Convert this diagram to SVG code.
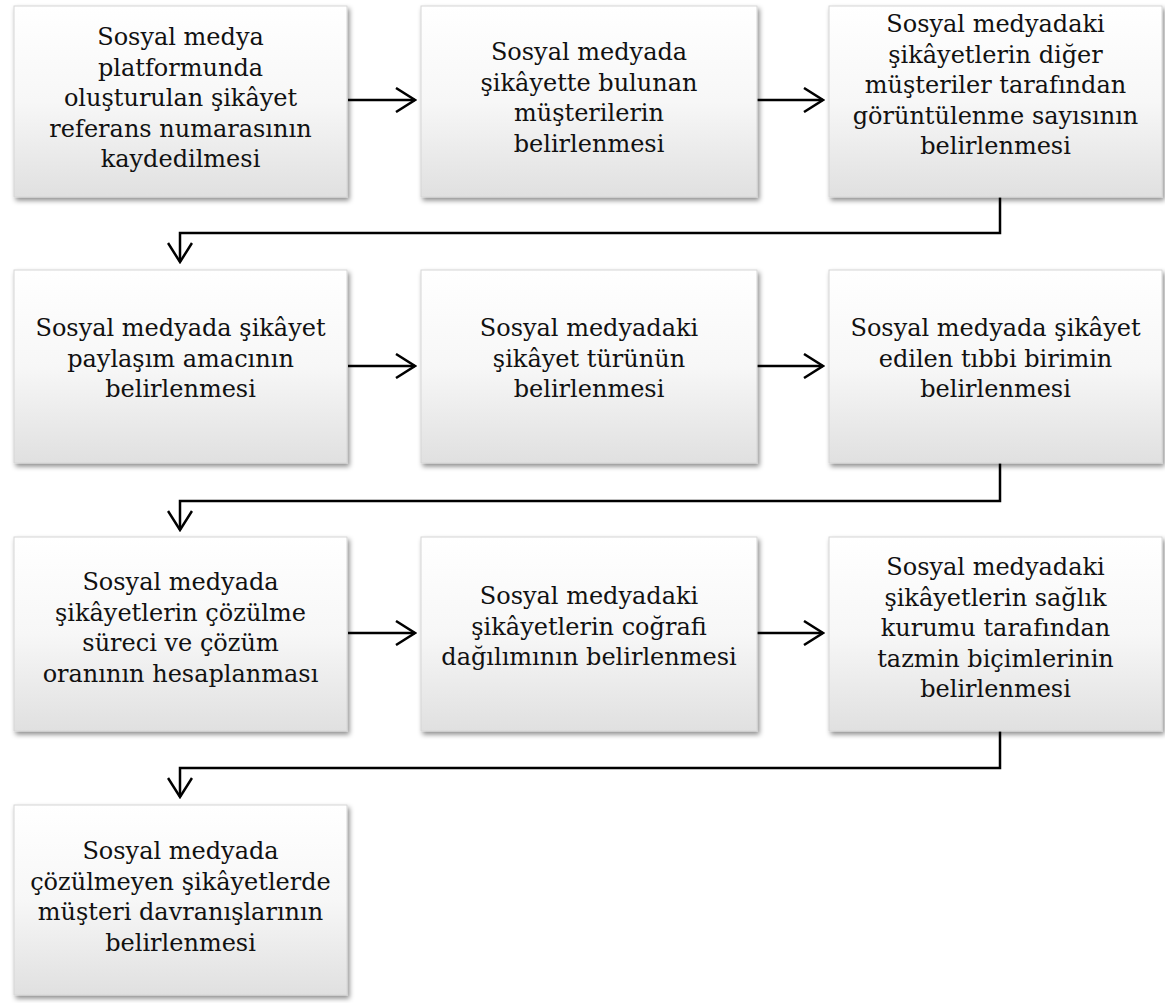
<svg xmlns="http://www.w3.org/2000/svg" width="1165" height="1003" viewBox="0 0 1165 1003">
<style>
.box{fill:url(#g);stroke:#d6d6d6;stroke-width:1;filter:url(#sh)}
.t{font-size:24px;fill:#111;text-anchor:middle}
.c{fill:none;stroke:#000;stroke-width:2.5;marker-end:url(#ah)}
</style>
<defs>
<linearGradient id="g" x1="0" y1="0" x2="0" y2="1">
<stop offset="0" stop-color="#ffffff"/>
<stop offset="0.5" stop-color="#f7f7f7"/>
<stop offset="1" stop-color="#e0e0e0"/>
</linearGradient>
<filter id="sh" x="-5%" y="-5%" width="115%" height="120%">
<feDropShadow dx="2" dy="3" stdDeviation="2.5" flood-color="#000" flood-opacity="0.45"/>
</filter>
<marker id="ah" markerUnits="userSpaceOnUse" viewBox="0 0 22 26" refX="20" refY="13" markerWidth="22" markerHeight="26" orient="auto">
<path d="M1,1 L20,13 L1,25" fill="none" stroke="#000" stroke-width="2.5"/>
</marker>
</defs>
<rect width="1165" height="1003" fill="#fff"/>

<g id="connectors">
<line class="c" x1="348" y1="100" x2="415" y2="100"/>
<line class="c" x1="757" y1="100" x2="823" y2="100"/>
<polyline class="c" points="1000,197 1000,233 180,233 180,262"/>
<line class="c" x1="348" y1="366" x2="415" y2="366"/>
<line class="c" x1="757" y1="366" x2="823" y2="366"/>
<polyline class="c" points="1000,463 1000,501 180,501 180,530"/>
<line class="c" x1="348" y1="633" x2="415" y2="633"/>
<line class="c" x1="757" y1="633" x2="823" y2="633"/>
<polyline class="c" points="1000,731 1000,768 180,768 180,797"/>
</g>

<g font-family="'DejaVu Serif', serif">
<g id="n1">
<rect class="box" x="14" y="6" width="333" height="191"/>
<text class="t"><tspan x="180.5" y="45">Sosyal medya</tspan><tspan x="180.5" y="75.5">platformunda</tspan><tspan x="180.5" y="106">oluşturulan şikâyet</tspan><tspan x="180.5" y="136.5">referans numarasının</tspan><tspan x="180.5" y="167">kaydedilmesi</tspan></text>
</g>
<g id="n2">
<rect class="box" x="421" y="6" width="336" height="191"/>
<text class="t"><tspan x="589" y="60">Sosyal medyada</tspan><tspan x="589" y="90.5">şikâyette bulunan</tspan><tspan x="589" y="121">müşterilerin</tspan><tspan x="589" y="151.5">belirlenmesi</tspan></text>
</g>
<g id="n3">
<rect class="box" x="829" y="6" width="333" height="191"/>
<text class="t"><tspan x="995.5" y="32">Sosyal medyadaki</tspan><tspan x="995.5" y="62.5">şikâyetlerin diğer</tspan><tspan x="995.5" y="93">müşteriler tarafından</tspan><tspan x="995.5" y="123.5">görüntülenme sayısının</tspan><tspan x="995.5" y="154">belirlenmesi</tspan></text>
</g>

<g id="n4">
<rect class="box" x="14" y="270" width="333" height="193"/>
<text class="t"><tspan x="180.5" y="336">Sosyal medyada şikâyet</tspan><tspan x="180.5" y="366.5">paylaşım amacının</tspan><tspan x="180.5" y="397">belirlenmesi</tspan></text>
</g>
<g id="n5">
<rect class="box" x="421" y="270" width="336" height="193"/>
<text class="t"><tspan x="589" y="336">Sosyal medyadaki</tspan><tspan x="589" y="366.5">şikâyet türünün</tspan><tspan x="589" y="397">belirlenmesi</tspan></text>
</g>
<g id="n6">
<rect class="box" x="829" y="270" width="333" height="193"/>
<text class="t"><tspan x="995.5" y="336">Sosyal medyada şikâyet</tspan><tspan x="995.5" y="366.5">edilen tıbbi birimin</tspan><tspan x="995.5" y="397">belirlenmesi</tspan></text>
</g>

<g id="n7">
<rect class="box" x="14" y="537" width="333" height="194"/>
<text class="t"><tspan x="180.5" y="590">Sosyal medyada</tspan><tspan x="180.5" y="620.5">şikâyetlerin çözülme</tspan><tspan x="180.5" y="651">süreci ve çözüm</tspan><tspan x="180.5" y="681.5">oranının hesaplanması</tspan></text>
</g>
<g id="n8">
<rect class="box" x="421" y="537" width="336" height="194"/>
<text class="t"><tspan x="589" y="604">Sosyal medyadaki</tspan><tspan x="589" y="634.5">şikâyetlerin coğrafi</tspan><tspan x="589" y="665">dağılımının belirlenmesi</tspan></text>
</g>
<g id="n9">
<rect class="box" x="829" y="537" width="333" height="194"/>
<text class="t"><tspan x="995.5" y="575">Sosyal medyadaki</tspan><tspan x="995.5" y="605.5">şikâyetlerin sağlık</tspan><tspan x="995.5" y="636">kurumu tarafından</tspan><tspan x="995.5" y="666.5">tazmin biçimlerinin</tspan><tspan x="995.5" y="697">belirlenmesi</tspan></text>
</g>

<g id="n10">
<rect class="box" x="14" y="805" width="333" height="190"/>
<text class="t"><tspan x="180.5" y="859">Sosyal medyada</tspan><tspan x="180.5" y="889.5">çözülmeyen şikâyetlerde</tspan><tspan x="180.5" y="920">müşteri davranışlarının</tspan><tspan x="180.5" y="950.5">belirlenmesi</tspan></text>
</g>
</g>
</svg>
